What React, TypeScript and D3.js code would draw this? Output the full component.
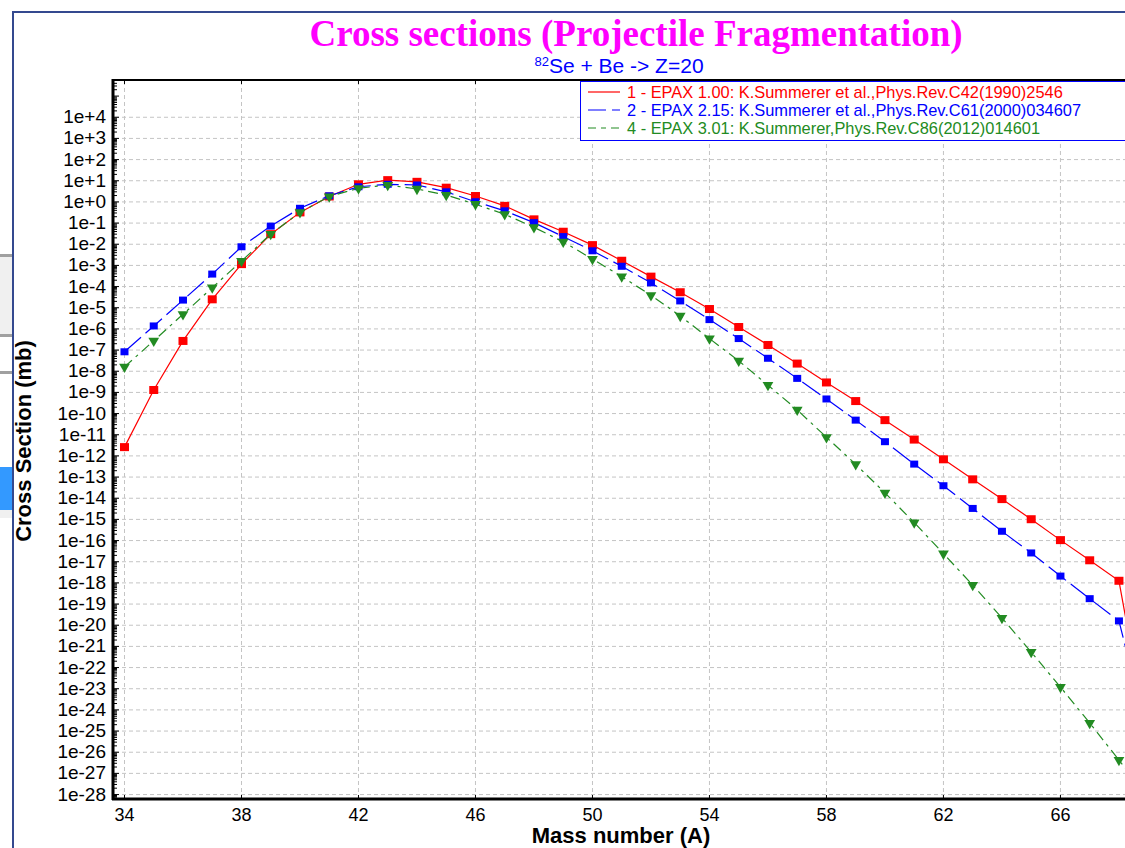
import * as d3 from 'd3';

// Mass numbers and cross sections (mb)
const massNumbers = [34, 35, 36, 37, 38, 39, 40, 41, 42, 43, 44, 45, 46, 47, 48, 49, 50, 51, 52, 53, 54, 55, 56, 57, 58, 59, 60, 61, 62, 63, 64, 65, 66, 67, 68, 69];

const epax100 = [2.6e-12, 1.3e-9, 2.7e-7, 2.5e-5, 1.15e-3, 0.03, 0.32, 1.8, 6.8, 10.7, 8.9, 4.7, 1.9, 0.65, 0.15, 0.039, 9.1e-3, 1.66e-3, 2.95e-4, 5.4e-5, 8.7e-6, 1.23e-6, 1.74e-7, 2.3e-8, 2.95e-9, 3.9e-10, 4.9e-11, 5.9e-12, 6.9e-13, 7.8e-14, 9.1e-15, 1.02e-15, 1.05e-16, 1.17e-17, 1.26e-18, 3.2e-26];

const epax215 = [8.3e-8, 1.38e-6, 2.3e-5, 3.9e-4, 7.6e-3, 0.072, 0.5, 1.95, 5.2, 6.8, 6.3, 3.0, 1.02, 0.38, 0.105, 0.023, 4.9e-3, 9.1e-4, 1.5e-4, 2.1e-5, 2.75e-6, 3.5e-7, 4.1e-8, 4.6e-9, 4.9e-10, 4.9e-11, 4.7e-12, 4.1e-13, 3.9e-14, 3.3e-15, 2.75e-16, 2.6e-17, 2.1e-18, 1.8e-19, 1.6e-20, 5e-26];

const epax301 = [1.6e-8, 2.75e-7, 4.9e-6, 8.9e-5, 1.6e-3, 0.03, 0.32, 1.8, 4.4, 6.3, 4.1, 2.1, 0.78, 0.26, 0.063, 0.013, 2.0e-3, 2.95e-4, 3.9e-5, 4.1e-6, 3.5e-7, 3.1e-8, 2.2e-9, 1.5e-10, 7.6e-12, 4.0e-13, 1.8e-14, 7.1e-16, 2.4e-17, 7.9e-19, 2.2e-20, 5.4e-22, 1.2e-23, 2.4e-25, 4.3e-27, 6.3e-29];

const legendLabels = [
  '1 - EPAX 1.00: K.Summerer et al.,Phys.Rev.C42(1990)2546',
  '2 - EPAX 2.15: K.Summerer et al.,Phys.Rev.C61(2000)034607',
  '4 - EPAX 3.01: K.Summerer,Phys.Rev.C86(2012)014601',
];

const xTicks = [34, 38, 42, 46, 50, 54, 58, 62, 66];
const yExponents = d3.range(4, -29, -1);

const W = 1125;
const H = 848;
const plot = { left: 113, right: 1140, top: 80, bottom: 799 };

const series = [
  { name: legendLabels[0], values: epax100, color: '#ff0000', dash: 'none', marker: 'square', size: 9 },
  { name: legendLabels[1], values: epax215, color: '#0000ff', dash: '22,6', marker: 'square', size: 8 },
  { name: legendLabels[2], values: epax301, color: '#228b22', dash: '10,5,3,5', marker: 'triangle', size: 8 },
];

const sans = 'Arial, "Liberation Sans", sans-serif';

export default function App() {
  const x = d3.scaleLinear().domain([33.607, 68.72]).range([plot.left, plot.right]);
  const y = d3.scaleLog().domain([Math.pow(10, -28.21), Math.pow(10, 5.76)]).range([plot.bottom, plot.top]);

  const line = d3
    .line<number>()
    .x((_, i) => x(massNumbers[i]))
    .y((d) => y(d));

  const tri = d3.symbol().type(d3.symbolTriangle).size(50)();

  // minor log ticks along the left axis
  const minorTicks: { v: number; major: boolean }[] = [];
  for (let e = -29; e <= 5; e++) {
    for (let k = 1; k <= 9; k++) {
      const v = k * Math.pow(10, e);
      const py = y(v);
      if (py > plot.top + 2 && py < plot.bottom - 1) minorTicks.push({ v, major: k === 1 });
    }
  }

  return (
    <svg width={W} height={H} style={{ display: 'block', position: 'absolute', left: 0, top: 0, background: '#fff' }}>
      <defs>
        <clipPath id="plotClip">
          <rect x={plot.left} y={plot.top} width={plot.right - plot.left} height={plot.bottom - plot.top} />
        </clipPath>
      </defs>
      <rect x={0} y={0} width={W} height={H} fill="#fff" />

      {/* window chrome at the left edge */}
      <rect x={0} y={254} width={12} height={3} fill="#a0a0a0" />
      <rect x={0} y={257} width={12} height={77} fill="#f0f0f0" />
      <rect x={0} y={334} width={12} height={3} fill="#a0a0a0" />
      <rect x={0} y={371} width={12} height={3} fill="#a0a0a0" />
      <rect x={0} y={467} width={12} height={43} fill="#3399ff" />
      <rect x={0} y={510} width={12} height={8} fill="#f0f0f0" />
      <line x1={13} x2={13} y1={11} y2={H} stroke="#34498f" strokeWidth={2} />
      <line x1={12} x2={W} y1={12} y2={12} stroke="#34498f" strokeWidth={2} />

      {/* title */}
      <text x={636} y={46} textAnchor="middle" fill="#ff00ff" fontFamily='"Times New Roman", "Liberation Serif", serif' fontWeight="bold" fontSize={37}>
        Cross sections (Projectile Fragmentation)
      </text>
      <text x={619} y={73} textAnchor="middle" fill="#0000ff" fontFamily={sans} fontSize={21}>
        <tspan fontSize={13} dy={-7}>82</tspan>
        <tspan dy={7}>Se + Be -&gt; Z=20</tspan>
      </text>

      {/* grid */}
      {yExponents.map((e) => (
        <line key={'gy' + e} x1={plot.left + 2} x2={W} y1={y(Math.pow(10, e))} y2={y(Math.pow(10, e))} stroke="#c4c4c4" strokeDasharray="4,3" />
      ))}
      {xTicks.map((t) => (
        <line key={'gx' + t} x1={x(t)} x2={x(t)} y1={plot.top + 1} y2={plot.bottom - 1} stroke="#c4c4c4" strokeDasharray="4,3" />
      ))}

      {/* series */}
      <g clipPath="url(#plotClip)">
        {series.map((s) => (
          <g key={s.name}>
            <path d={line(s.values) || ''} fill="none" stroke={s.color} strokeWidth={1.2} strokeDasharray={s.dash} />
            {s.values.map((v, i) =>
              s.marker === 'square' ? (
                <rect key={i} x={x(massNumbers[i]) - s.size / 2} y={y(v) - s.size / 2 + 0.5} width={s.size} height={s.size - 1} fill={s.color} />
              ) : (
                <path key={i} d={tri} transform={`translate(${x(massNumbers[i])},${y(v)}) rotate(180)`} fill={s.color} />
              )
            )}
          </g>
        ))}
      </g>

      {/* axes frame */}
      <line x1={plot.left} x2={W} y1={plot.top} y2={plot.top} stroke="#000" strokeWidth={2} />
      <line x1={plot.left - 1} x2={W} y1={plot.bottom} y2={plot.bottom} stroke="#000" strokeWidth={3} />
      <line x1={plot.left} x2={plot.left} y1={plot.top - 1} y2={plot.bottom + 1} stroke="#000" strokeWidth={3} />
      {minorTicks.map((m, i) => (
        <line key={'mt' + i} x1={plot.left + 1} x2={plot.left + (m.major ? 6 : 4)} y1={y(m.v)} y2={y(m.v)} stroke="#000" strokeWidth={1} />
      ))}
      {xTicks.map((t) => (
        <g key={'xt' + t}>
          <line x1={x(t)} x2={x(t)} y1={plot.top + 1} y2={plot.top + 4} stroke="#000" />
          <line x1={x(t)} x2={x(t)} y1={plot.bottom - 4} y2={plot.bottom - 1} stroke="#000" />
          <text x={x(t)} y={821} textAnchor="middle" fontFamily={sans} fontSize={18} fill="#000">
            {t}
          </text>
        </g>
      ))}
      {yExponents.map((e) => (
        <text key={'yl' + e} x={106} y={y(Math.pow(10, e)) + 6} textAnchor="end" fontFamily={sans} fontSize={19} fill="#000">
          {e >= 0 ? `1e+${e}` : `1e${e}`}
        </text>
      ))}

      {/* axis titles */}
      <text x={621} y={843} textAnchor="middle" fontFamily={sans} fontWeight="bold" fontSize={22} fill="#000">
        Mass number (A)
      </text>
      <text transform="translate(31,441) rotate(-90)" textAnchor="middle" fontFamily={sans} fontWeight="bold" fontSize={22} fill="#000">
        Cross Section (mb)
      </text>

      {/* legend */}
      <rect x={580.5} y={81.5} width={600} height={59} fill="#fff" stroke="#0000ff" strokeWidth={1} />
      {series.map((s, i) => {
        const ly = 92 + i * 18;
        return (
          <g key={'lg' + i}>
            <line x1={588} x2={620} y1={ly} y2={ly} stroke={s.color} strokeWidth={1.2} strokeDasharray={i === 0 ? 'none' : i === 1 ? '18,6,8,0' : '8,5,5,5'} />
            <text x={627} y={ly + 5.5} fontFamily={sans} fontSize={16.4} fill={s.color}>
              {s.name}
            </text>
          </g>
        );
      })}
    </svg>
  );
}
